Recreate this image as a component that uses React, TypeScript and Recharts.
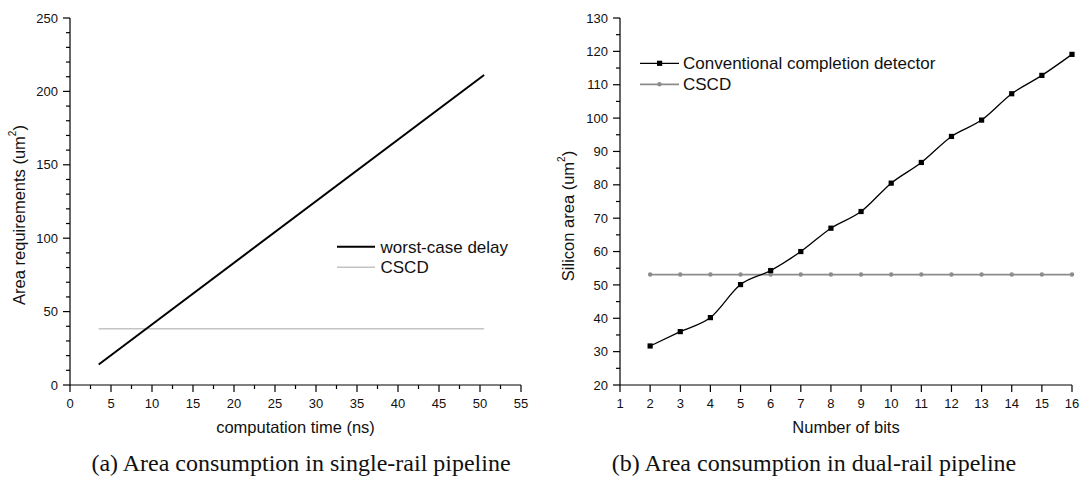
import React from 'react';
import { LineChart, Line, XAxis, YAxis, Legend } from 'recharts';

const FONT = '"Liberation Sans", Arial, Helvetica, sans-serif';
const SERIF = '"Liberation Serif", "Times New Roman", Times, serif';

// ---- (a) single-rail pipeline ----
const computationTime = [3.5, 50.5];
const worstCaseArea = [14.0, 211.2];
const cscdAreaA = [38.3, 38.3];
const aXTicks = [0, 2.5, 5, 7.5, 10, 12.5, 15, 17.5, 20, 22.5, 25, 27.5, 30, 32.5, 35, 37.5, 40, 42.5, 45, 47.5, 50, 52.5, 55];
const aYTicks = [0, 10, 20, 30, 40, 50, 60, 70, 80, 90, 100, 110, 120, 130, 140, 150, 160, 170, 180, 190, 200, 210, 220, 230, 240, 250];
const aSeriesNames = ['worst-case delay', 'CSCD'];

// ---- (b) dual-rail pipeline ----
const bits = [2, 3, 4, 5, 6, 7, 8, 9, 10, 11, 12, 13, 14, 15, 16];
const conventionalArea = [31.7, 36.0, 40.2, 50.1, 54.3, 60.0, 67.0, 72.0, 80.5, 86.7, 94.5, 99.4, 107.3, 112.8, 119.1];
const cscdAreaB = [53.1, 53.1, 53.1, 53.1, 53.1, 53.1, 53.1, 53.1, 53.1, 53.1, 53.1, 53.1, 53.1, 53.1, 53.1];
const bXTicks = [1, 2, 3, 4, 5, 6, 7, 8, 9, 10, 11, 12, 13, 14, 15, 16];
const bYTicks = [20, 25, 30, 35, 40, 45, 50, 55, 60, 65, 70, 75, 80, 85, 90, 95, 100, 105, 110, 115, 120, 125, 130];
const bSeriesNames = ['Conventional completion detector', 'CSCD'];

const captions = ['(a) Area consumption in single-rail pipeline', '(b) Area consumption in dual-rail pipeline'];

const dataA = computationTime.map((t, i) => ({ t, worst: worstCaseArea[i], cscd: cscdAreaA[i] }));
const dataB = bits.map((b, i) => ({ b, conv: conventionalArea[i], cscd: cscdAreaB[i] }));

const isMajor = (v: number, base: number, step: number) => {
  const r = (v - base) / step;
  return Math.abs(r - Math.round(r)) < 1e-6;
};

const makeXTick = (base: number, step: number) => (props: any) => {
  const { x, y, payload } = props;
  const v = payload.value;
  const major = isMajor(v, base, step);
  return (
    <g>
      <line x1={x} x2={x} y1={y} y2={y + (major ? 7 : 4)} stroke="#000" strokeWidth={1.2} />
      {major && (
        <text x={x} y={y + 23} textAnchor="middle" fontSize={13} fontFamily={FONT} fill="#111">
          {v}
        </text>
      )}
    </g>
  );
};

const makeYTick = (base: number, step: number) => (props: any) => {
  const { x, y, payload } = props;
  const v = payload.value;
  const major = isMajor(v, base, step);
  return (
    <g>
      <line x1={x} x2={x - (major ? 7 : 4)} y1={y} y2={y} stroke="#000" strokeWidth={1.2} />
      {major && (
        <text x={x - 12} y={y + 4.6} textAnchor="end" fontSize={13} fontFamily={FONT} fill="#111">
          {v}
        </text>
      )}
    </g>
  );
};

const xTitle = (text: string) => (props: any) => {
  const vb = props.viewBox || {};
  return (
    <text x={vb.x + vb.width / 2} y={vb.y + 48} textAnchor="middle" fontSize={16.5} fontFamily={FONT} fill="#111">
      {text}
    </text>
  );
};

const yTitle = (text: string, cx: number, cy: number) => () => (
  <text
    x={cx}
    y={cy}
    transform={`rotate(-90, ${cx}, ${cy})`}
    textAnchor="middle"
    dominantBaseline="central"
    fontSize={16.5}
    fontFamily={FONT}
    fill="#111"
  >
    {text}
    <tspan dy={-7} fontSize={10}>2</tspan>
    <tspan dy={7}>)</tspan>
  </text>
);

const SquareDot = (p: any) => (
  <rect key={`sq-${p.index}`} x={p.cx - 2.6} y={p.cy - 2.6} width={5.2} height={5.2} fill="#000" />
);

const legendA = () => (
  <svg width={240} height={50} style={{ display: 'block', overflow: 'visible' }}>
    <line x1={7} x2={45} y1={16.7} y2={16.7} stroke="#000" strokeWidth={2} />
    <text x={50.5} y={22.6} fontSize={17} fontFamily={FONT} fill="#111">{aSeriesNames[0]}</text>
    <line x1={7} x2={45} y1={37.3} y2={37.3} stroke="#c4c4c4" strokeWidth={1.6} />
    <text x={50.5} y={43.2} fontSize={17} fontFamily={FONT} fill="#111">{aSeriesNames[1]}</text>
  </svg>
);

const legendB = () => (
  <svg width={300} height={50} style={{ display: 'block', overflow: 'visible' }}>
    <line x1={5} x2={44} y1={13.3} y2={13.3} stroke="#000" strokeWidth={1.3} />
    <rect x={22} y={10.7} width={5.2} height={5.2} fill="#000" />
    <text x={48} y={19.2} fontSize={17} fontFamily={FONT} fill="#111">{bSeriesNames[0]}</text>
    <line x1={5} x2={44} y1={34.3} y2={34.3} stroke="#8c8c8c" strokeWidth={1.8} />
    <circle cx={24.5} cy={34.3} r={2.2} fill="#8c8c8c" />
    <text x={48} y={40.2} fontSize={17} fontFamily={FONT} fill="#111">{bSeriesNames[1]}</text>
  </svg>
);

export default function App() {
  return (
    <div style={{ position: 'absolute', left: 0, top: 0, width: 1082, height: 478, background: '#fff', overflow: 'hidden' }}>
      <div style={{ position: 'absolute', left: 0, top: 0 }}>
        <LineChart width={545} height={440} data={dataA} margin={{ top: 18, right: 24, bottom: 15, left: 10 }}>
          <XAxis
            dataKey="t"
            type="number"
            domain={[0, 55]}
            ticks={aXTicks}
            interval={0}
            tickSize={0}
            tickMargin={0}
            tickLine={false}
            axisLine={{ stroke: '#000', strokeWidth: 1.2 }}
            tick={makeXTick(0, 5)}
            height={40}
            label={{ content: xTitle('computation time (ns)') }}
          />
          <YAxis
            type="number"
            domain={[0, 250]}
            ticks={aYTicks}
            interval={0}
            tickSize={0}
            tickMargin={0}
            tickLine={false}
            axisLine={{ stroke: '#000', strokeWidth: 1.2 }}
            tick={makeYTick(0, 50)}
            width={60}
            label={{ content: yTitle('Area requirements (um', 19, 215) }}
          />
          <Legend
            layout="horizontal"
            verticalAlign="middle"
            align="center"
            content={legendA}
            wrapperStyle={{ left: 330, top: 230, width: 240, height: 50 }}
          />
          <Line dataKey="cscd" type="linear" stroke="#c4c4c4" strokeWidth={1.6} dot={false} isAnimationActive={false} />
          <Line dataKey="worst" type="linear" stroke="#000" strokeWidth={2} dot={false} isAnimationActive={false} />
        </LineChart>
      </div>
      <div style={{ position: 'absolute', left: 545, top: 0 }}>
        <LineChart width={537} height={440} data={dataB} margin={{ top: 18, right: 10, bottom: 15, left: 15 }}>
          <XAxis
            dataKey="b"
            type="number"
            domain={[1, 16]}
            ticks={bXTicks}
            interval={0}
            tickSize={0}
            tickMargin={0}
            tickLine={false}
            axisLine={{ stroke: '#000', strokeWidth: 1.2 }}
            tick={makeXTick(1, 1)}
            height={40}
            label={{ content: xTitle('Number of bits') }}
          />
          <YAxis
            type="number"
            domain={[20, 130]}
            ticks={bYTicks}
            interval={0}
            tickSize={0}
            tickMargin={0}
            tickLine={false}
            axisLine={{ stroke: '#000', strokeWidth: 1.2 }}
            tick={makeYTick(20, 10)}
            width={60}
            label={{ content: yTitle('Silicon area (um', 23, 216) }}
          />
          <Legend
            layout="horizontal"
            verticalAlign="middle"
            align="center"
            content={legendB}
            wrapperStyle={{ left: 90, top: 50, width: 300, height: 50 }}
          />
          <Line
            dataKey="cscd"
            type="linear"
            stroke="#8c8c8c"
            strokeWidth={1.8}
            dot={{ r: 2.2, fill: '#8c8c8c', stroke: 'none' }}
            isAnimationActive={false}
          />
          <Line
            dataKey="conv"
            type="monotone"
            stroke="#000"
            strokeWidth={1.3}
            dot={SquareDot}
            isAnimationActive={false}
          />
        </LineChart>
      </div>
      <svg width={1082} height={478} style={{ position: 'absolute', left: 0, top: 0, pointerEvents: 'none' }}>
        <text x={301} y={471} textAnchor="middle" fontSize={24} fontFamily={SERIF} fill="#111">{captions[0]}</text>
        <text x={814} y={471} textAnchor="middle" fontSize={24} fontFamily={SERIF} fill="#111">{captions[1]}</text>
      </svg>
    </div>
  );
}
